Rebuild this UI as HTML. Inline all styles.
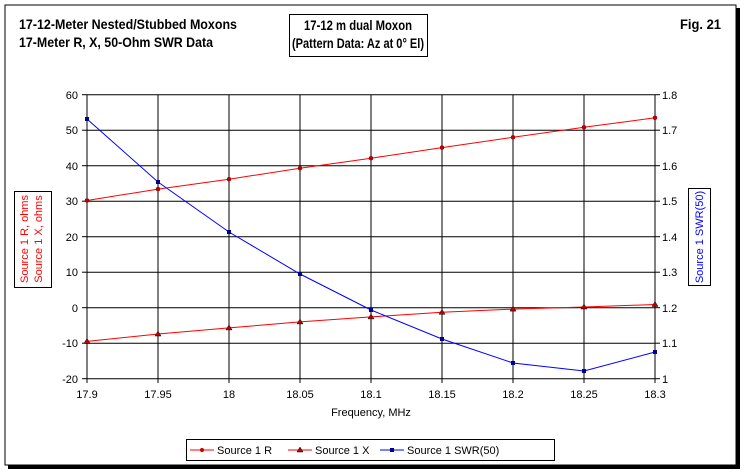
<!DOCTYPE html>
<html><head><meta charset="utf-8"><style>
body{margin:0;background:#fff;}
svg{display:block;font-family:"Liberation Sans",Arial,sans-serif;}
</style></head><body>
<svg width="744" height="473" viewBox="0 0 744 473" xmlns="http://www.w3.org/2000/svg">
<rect x="0" y="0" width="744" height="473" fill="#fff"/>
<rect x="8" y="8" width="732" height="461" fill="#000"/>
<rect x="5" y="5" width="731" height="460" fill="#fff" stroke="#000" stroke-width="1"/>
<g font-weight="bold" font-size="14" fill="#000">
<text x="19" y="29" textLength="218" lengthAdjust="spacingAndGlyphs">17-12-Meter Nested/Stubbed Moxons</text>
<text x="19" y="47" textLength="194" lengthAdjust="spacingAndGlyphs">17-Meter R, X, 50-Ohm SWR Data</text>
<text x="304" y="30" textLength="108" lengthAdjust="spacingAndGlyphs">17-12 m dual Moxon</text>
<text x="292" y="48" textLength="132" lengthAdjust="spacingAndGlyphs">(Pattern Data: Az at 0° El)</text>
<text x="680" y="29" textLength="41" lengthAdjust="spacingAndGlyphs">Fig. 21</text>
</g>
<rect x="289.5" y="14.5" width="138" height="42" fill="none" stroke="#000"/>
<g stroke="#000" stroke-width="1">
<line x1="87" y1="94.7" x2="655" y2="94.7"/>
<line x1="87" y1="130.2" x2="655" y2="130.2"/>
<line x1="87" y1="165.7" x2="655" y2="165.7"/>
<line x1="87" y1="201.2" x2="655" y2="201.2"/>
<line x1="87" y1="236.7" x2="655" y2="236.7"/>
<line x1="87" y1="272.2" x2="655" y2="272.2"/>
<line x1="87" y1="307.7" x2="655" y2="307.7"/>
<line x1="87" y1="343.2" x2="655" y2="343.2"/>
<line x1="87" y1="378.7" x2="655" y2="378.7"/>
<line x1="82" y1="94.7" x2="87" y2="94.7"/><line x1="82" y1="130.2" x2="87" y2="130.2"/><line x1="82" y1="165.7" x2="87" y2="165.7"/><line x1="82" y1="201.2" x2="87" y2="201.2"/><line x1="82" y1="236.7" x2="87" y2="236.7"/><line x1="82" y1="272.2" x2="87" y2="272.2"/><line x1="82" y1="307.7" x2="87" y2="307.7"/><line x1="82" y1="343.2" x2="87" y2="343.2"/><line x1="82" y1="378.7" x2="87" y2="378.7"/>
<line x1="655" y1="94.7" x2="660" y2="94.7"/><line x1="655" y1="130.2" x2="660" y2="130.2"/><line x1="655" y1="165.7" x2="660" y2="165.7"/><line x1="655" y1="201.2" x2="660" y2="201.2"/><line x1="655" y1="236.7" x2="660" y2="236.7"/><line x1="655" y1="272.2" x2="660" y2="272.2"/><line x1="655" y1="307.7" x2="660" y2="307.7"/><line x1="655" y1="343.2" x2="660" y2="343.2"/><line x1="655" y1="378.7" x2="660" y2="378.7"/>
<line x1="87" y1="94.7" x2="87" y2="383"/><line x1="158" y1="94.7" x2="158" y2="383"/><line x1="229" y1="94.7" x2="229" y2="383"/><line x1="300" y1="94.7" x2="300" y2="383"/><line x1="371" y1="94.7" x2="371" y2="383"/><line x1="442" y1="94.7" x2="442" y2="383"/><line x1="513" y1="94.7" x2="513" y2="383"/><line x1="584" y1="94.7" x2="584" y2="383"/><line x1="655" y1="94.7" x2="655" y2="383"/>
</g>
<g font-size="11" fill="#000" text-anchor="end">
<text x="78" y="99">60</text><text x="78" y="134">50</text><text x="78" y="170">40</text><text x="78" y="205">30</text><text x="78" y="241">20</text><text x="78" y="276">10</text><text x="78" y="312">0</text><text x="78" y="347">-10</text><text x="78" y="383">-20</text>
</g>
<g font-size="11" fill="#000">
<text x="662" y="99">1.8</text><text x="662" y="134">1.7</text><text x="662" y="170">1.6</text><text x="662" y="205">1.5</text><text x="662" y="241">1.4</text><text x="662" y="276">1.3</text><text x="662" y="312">1.2</text><text x="662" y="347">1.1</text><text x="662" y="383">1</text>
</g>
<g font-size="11" fill="#000" text-anchor="middle">
<text x="87" y="398">17.9</text><text x="158" y="398">17.95</text><text x="229" y="398">18</text><text x="300" y="398">18.05</text><text x="371" y="398">18.1</text><text x="442" y="398">18.15</text><text x="513" y="398">18.2</text><text x="584" y="398">18.25</text><text x="655" y="398">18.3</text>
<text x="371" y="416">Frequency, MHz</text>
</g>
<rect x="14.5" y="191.5" width="37" height="96" fill="#fff" stroke="#000"/>
<g font-size="11" fill="#f00" text-anchor="middle">
<text transform="translate(28,239) rotate(-90)">Source 1 R, ohms</text>
<text transform="translate(42,239) rotate(-90)">Source 1 X, ohms</text>
</g>
<rect x="688.5" y="188.5" width="22" height="97" fill="#fff" stroke="#000"/>
<text transform="translate(703,237) rotate(-90)" font-size="11" fill="#00f" text-anchor="middle">Source 1 SWR(50)</text>
<g stroke="#f00" stroke-width="1" fill="none">
<polyline points="87,200.5 158,189.1 229,179.2 300,168.2 371,158.2 442,147.6 513,137.3 584,127.3 655,117.8"/>
<polyline points="87,341.4 158,334 229,327.9 300,321.9 371,316.9 442,312.3 513,309.1 584,307 655,304.5"/>
</g>
<g fill="#c00000" stroke="#800000" stroke-width="0.5">
<circle cx="87" cy="200.5" r="2"/><circle cx="158" cy="189.1" r="2"/><circle cx="229" cy="179.2" r="2"/><circle cx="300" cy="168.2" r="2"/><circle cx="371" cy="158.2" r="2"/><circle cx="442" cy="147.6" r="2"/><circle cx="513" cy="137.3" r="2"/><circle cx="584" cy="127.3" r="2"/><circle cx="655" cy="117.8" r="2"/>
</g>
<g fill="#c00000" stroke="#000" stroke-width="0.5">
<path d="M87,338.4 l3,5 h-6z"/><path d="M158,331 l3,5 h-6z"/><path d="M229,324.9 l3,5 h-6z"/><path d="M300,318.9 l3,5 h-6z"/><path d="M371,313.9 l3,5 h-6z"/><path d="M442,309.3 l3,5 h-6z"/><path d="M513,306.1 l3,5 h-6z"/><path d="M584,304 l3,5 h-6z"/><path d="M655,301.5 l3,5 h-6z"/>
</g>
<polyline points="87,119 158,182 229,232 300,274 371,310 442,339 513,363 584,371 655,352" fill="none" stroke="#00f" stroke-width="1"/>
<g fill="#00008b">
<rect x="85" y="117" width="4" height="4"/><rect x="156" y="180" width="4" height="4"/><rect x="227" y="230" width="4" height="4"/><rect x="298" y="272" width="4" height="4"/><rect x="369" y="308" width="4" height="4"/><rect x="440" y="337" width="4" height="4"/><rect x="511" y="361" width="4" height="4"/><rect x="582" y="369" width="4" height="4"/><rect x="653" y="350" width="4" height="4"/>
</g>
<rect x="186.5" y="439.5" width="368" height="21" fill="#fff" stroke="#000"/>
<g font-size="11" fill="#000">
<line x1="190" y1="450" x2="214" y2="450" stroke="#f00"/><circle cx="202" cy="450" r="2" fill="#c00000"/>
<text x="217" y="454">Source 1 R</text>
<line x1="288" y1="450" x2="312" y2="450" stroke="#f00"/><path d="M300,447 l3,5 h-6z" fill="#c00000" stroke="#000" stroke-width="0.5"/>
<text x="315" y="454">Source 1 X</text>
<line x1="380" y1="450" x2="404" y2="450" stroke="#00f"/><rect x="390" y="448" width="4" height="4" fill="#00008b"/>
<text x="407" y="454">Source 1 SWR(50)</text>
</g>
</svg>
</body></html>
